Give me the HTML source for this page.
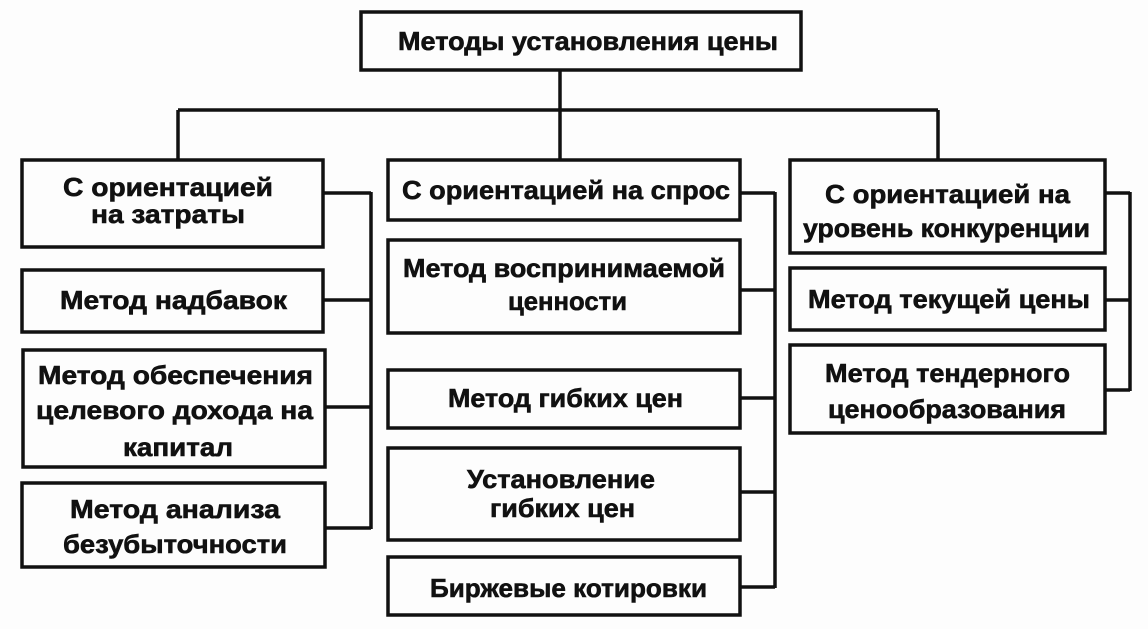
<!DOCTYPE html>
<html><head><meta charset="utf-8"><style>
html,body{margin:0;padding:0;background:#fdfdfd;}
svg{display:block;}
text{font-family:"Liberation Sans","DejaVu Sans",sans-serif;font-weight:bold;font-size:26px;fill:#111;stroke:#111;stroke-width:0.6px;}
</style></head><body>
<svg width="1148" height="629" viewBox="0 0 1148 629" xmlns="http://www.w3.org/2000/svg">
<g fill="none" stroke="#111" stroke-width="3.5">
<!-- top -->
<rect x="361" y="12" width="440" height="58"/>
<line x1="560" y1="70" x2="560" y2="160"/>
<line x1="178" y1="110" x2="938" y2="110"/>
<line x1="178" y1="110" x2="178" y2="160"/>
<line x1="938" y1="110" x2="938" y2="160"/>
<!-- left column -->
<rect x="22" y="160" width="301" height="87"/>
<rect x="22" y="270" width="301" height="62"/>
<rect x="23" y="350" width="302" height="117"/>
<rect x="22" y="483" width="303" height="84"/>
<line x1="323" y1="193" x2="371" y2="193"/>
<line x1="323" y1="300" x2="371" y2="300"/>
<line x1="325" y1="407" x2="371" y2="407"/>
<line x1="325" y1="528" x2="371" y2="528"/>
<line x1="371" y1="192" x2="371" y2="529"/>
<!-- center column -->
<rect x="388" y="160" width="352" height="60"/>
<rect x="388" y="240" width="352" height="93"/>
<rect x="388" y="370" width="352" height="58"/>
<rect x="388" y="448" width="352" height="92"/>
<rect x="388" y="557" width="352" height="58"/>
<line x1="740" y1="193" x2="775" y2="193"/>
<line x1="740" y1="290" x2="775" y2="290"/>
<line x1="740" y1="398" x2="775" y2="398"/>
<line x1="740" y1="492" x2="775" y2="492"/>
<line x1="740" y1="587" x2="775" y2="587"/>
<line x1="775" y1="192" x2="775" y2="588"/>
<!-- right column -->
<rect x="790" y="160" width="315" height="93"/>
<rect x="790" y="268" width="315" height="62"/>
<rect x="790" y="345" width="315" height="88"/>
<line x1="1105" y1="193" x2="1130" y2="193"/>
<line x1="1105" y1="300" x2="1130" y2="300"/>
<line x1="1105" y1="390" x2="1130" y2="390"/>
<line x1="1130" y1="192" x2="1130" y2="391"/>
</g>
<g>
<text x="398" y="50" textLength="380" lengthAdjust="spacingAndGlyphs">Методы установления цены</text>

<text x="63" y="196" textLength="210" lengthAdjust="spacingAndGlyphs">С ориентацией</text>
<text x="91" y="223" textLength="154" lengthAdjust="spacingAndGlyphs">на затраты</text>
<text x="60" y="309" textLength="227" lengthAdjust="spacingAndGlyphs">Метод надбавок</text>
<text x="38" y="384" textLength="275" lengthAdjust="spacingAndGlyphs">Метод обеспечения</text>
<text x="36" y="419" textLength="277" lengthAdjust="spacingAndGlyphs">целевого дохода на</text>
<text x="123" y="456" textLength="110" lengthAdjust="spacingAndGlyphs">капитал</text>
<text x="70" y="518" textLength="210" lengthAdjust="spacingAndGlyphs">Метод анализа</text>
<text x="63" y="553" textLength="224" lengthAdjust="spacingAndGlyphs">безубыточности</text>

<text x="402" y="199" textLength="328" lengthAdjust="spacingAndGlyphs">С ориентацией на спрос</text>
<text x="403" y="277" textLength="322" lengthAdjust="spacingAndGlyphs">Метод воспринимаемой</text>
<text x="508" y="310" textLength="119" lengthAdjust="spacingAndGlyphs">ценности</text>
<text x="448" y="407" textLength="235" lengthAdjust="spacingAndGlyphs">Метод гибких цен</text>
<text x="467" y="488" textLength="188" lengthAdjust="spacingAndGlyphs">Установление</text>
<text x="490" y="517" textLength="145" lengthAdjust="spacingAndGlyphs">гибких цен</text>
<text x="430" y="597" textLength="277" lengthAdjust="spacingAndGlyphs">Биржевые котировки</text>

<text x="825" y="203" textLength="245" lengthAdjust="spacingAndGlyphs">С ориентацией на</text>
<text x="803" y="237" textLength="287" lengthAdjust="spacingAndGlyphs">уровень конкуренции</text>
<text x="808" y="308" textLength="282" lengthAdjust="spacingAndGlyphs">Метод текущей цены</text>
<text x="825" y="382" textLength="245" lengthAdjust="spacingAndGlyphs">Метод тендерного</text>
<text x="828" y="418" textLength="238" lengthAdjust="spacingAndGlyphs">ценообразования</text>
</g>
</svg>
</body></html>
